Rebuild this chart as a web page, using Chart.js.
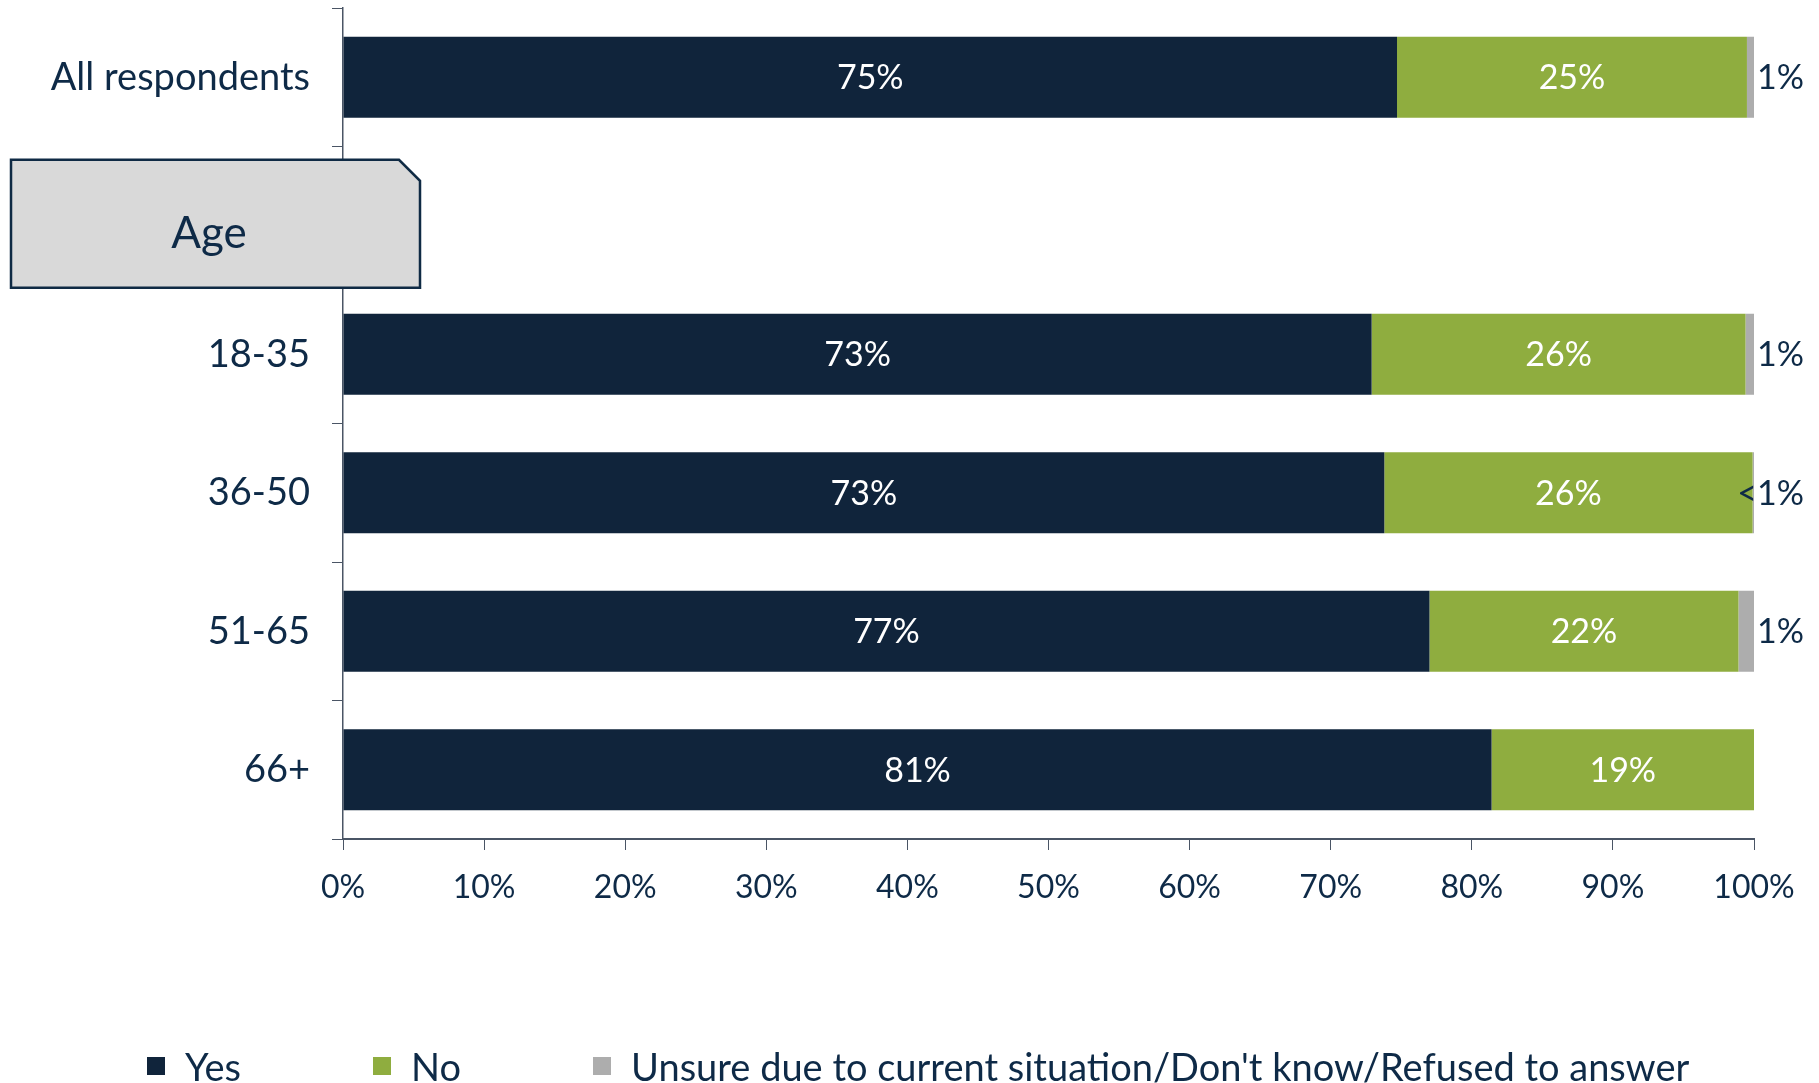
<!DOCTYPE html>
<html>
<head>
<meta charset="utf-8">
<script src="https://cdn.jsdelivr.net/npm/chart.js@4/dist/chart.umd.min.js"></script>
<style>
  html, body { margin: 0; padding: 0; background: #fff; }
  #wrap { position: relative; width: 1819px; height: 1083px; }
  #legend {
    position: absolute; left: 147px; top: 1045px; height: 42px;
    display: flex; align-items: center; gap: 132px;
    font-family: Lato, sans-serif; font-size: 38px; color: #0e2a47;
  }
  .item { display: flex; align-items: center; gap: 20px; white-space: nowrap; }
  .swatch { width: 18px; height: 18px; }
</style>
</head>
<body>
<div id="wrap">
  <canvas id="chart" width="1819" height="1083"></canvas>
  <div id="legend"></div>
</div>
<script>
const categories = ['All respondents', '', '18-35', '36-50', '51-65', '66+'];
const seriesNames = ['Yes', 'No', "Unsure due to current situation/Don't know/Refused to answer"];
const yesValues = [74.7, null, 72.9, 73.8, 77.0, 81.4];
const noValues = [24.8, null, 26.5, 26.1, 21.9, 18.6];
const unsureValues = [0.5, null, 0.6, 0.1, 1.1, 0];
const yesLabels = ['75%', '', '73%', '73%', '77%', '81%'];
const noLabels = ['25%', '', '26%', '26%', '22%', '19%'];
const unsureLabels = ['1%', '', '1%', '<1%', '1%', ''];
const xTicks = [0, 10, 20, 30, 40, 50, 60, 70, 80, 90, 100];

const navy = '#10243b';
const green = '#8fad3f';
const grey = '#adadad';
const textColor = '#0e2a47';
const axisColor = '#4a5565';
const font = 'Lato, sans-serif';

const colors = [navy, green, grey];

// legend built from the series names
const legend = document.getElementById('legend');
seriesNames.forEach((name, i) => {
  const item = document.createElement('div');
  item.className = 'item';
  item.innerHTML = `<span class="swatch" style="background:${colors[i]}"></span><span>${name.replace(/</g, '&lt;')}</span>`;
  legend.appendChild(item);
});

const barLabels = {
  id: 'barLabels',
  afterDatasetsDraw(chart) {
    const ctx = chart.ctx;
    const xScale = chart.scales.x;
    ctx.save();
    ctx.font = `34px ${font}`;
    ctx.textBaseline = 'middle';
    [yesLabels, noLabels].forEach((labels, di) => {
      chart.getDatasetMeta(di).data.forEach((bar, i) => {
        if (!labels[i]) return;
        ctx.fillStyle = '#ffffff';
        ctx.textAlign = 'center';
        ctx.fillText(labels[i], (bar.x + bar.base) / 2, bar.y + 1);
      });
    });
    chart.getDatasetMeta(2).data.forEach((bar, i) => {
      if (!unsureLabels[i]) return;
      ctx.fillStyle = textColor;
      ctx.textAlign = 'right';
      ctx.fillText(unsureLabels[i], xScale.getPixelForValue(100) + 50, bar.y + 1);
    });
    ctx.restore();
  }
};

// grey "Age" tab over the empty row
const ageTab = {
  id: 'ageTab',
  afterDraw(chart) {
    const ctx = chart.ctx;
    const yc = chart.scales.y.getPixelForValue(1);
    const left = 11, right = 420, top = yc - 56, bottom = yc + 72, cut = 21;
    ctx.save();
    ctx.beginPath();
    ctx.moveTo(left, top);
    ctx.lineTo(right - cut, top);
    ctx.lineTo(right, top + cut);
    ctx.lineTo(right, bottom);
    ctx.lineTo(left, bottom);
    ctx.closePath();
    ctx.fillStyle = '#d9d9d9';
    ctx.fill();
    ctx.lineWidth = 2.5;
    ctx.strokeStyle = '#0f2a44';
    ctx.stroke();
    ctx.fillStyle = textColor;
    ctx.font = `44px ${font}`;
    ctx.textAlign = 'center';
    ctx.textBaseline = 'alphabetic';
    ctx.fillText('Age', 209, yc + 32);
    ctx.restore();
  }
};

new Chart(document.getElementById('chart').getContext('2d'), {
  type: 'bar',
  data: {
    labels: categories,
    datasets: [
      { label: seriesNames[0], data: yesValues, backgroundColor: navy },
      { label: seriesNames[1], data: noValues, backgroundColor: green },
      { label: seriesNames[2], data: unsureValues, backgroundColor: grey }
    ]
  },
  options: {
    indexAxis: 'y',
    responsive: false,
    animation: false,
    datasets: { bar: { categoryPercentage: 1, barPercentage: 0.585 } },
    layout: { padding: { top: 8, right: 65, bottom: 0, left: 0 } },
    plugins: {
      legend: { display: false },
      tooltip: { enabled: false }
    },
    scales: {
      x: {
        stacked: true,
        min: 0,
        max: 100,
        afterBuildTicks(scale) { scale.ticks = xTicks.map(v => ({ value: v })); },
        afterFit(scale) {
          scale.height = 244;
          scale.paddingLeft = 0;
          scale.paddingRight = 0;
        },
        border: { color: axisColor, width: 2 },
        grid: { drawOnChartArea: false, drawTicks: true, tickLength: 11, color: axisColor },
        ticks: {
          color: textColor,
          font: { family: font, size: 32 },
          padding: 18,
          maxRotation: 0,
          callback: v => v + '%'
        }
      },
      y: {
        stacked: true,
        afterFit(scale) {
          scale.width = 343;
          scale.paddingTop = 0;
          scale.paddingBottom = 0;
        },
        border: { color: axisColor, width: 1.5 },
        grid: { drawOnChartArea: false, drawTicks: true, tickLength: 11, color: axisColor },
        ticks: {
          color: textColor,
          font: { family: font, size: 38 },
          padding: 22
        }
      }
    }
  },
  plugins: [barLabels, ageTab]
});
</script>
</body>
</html>
